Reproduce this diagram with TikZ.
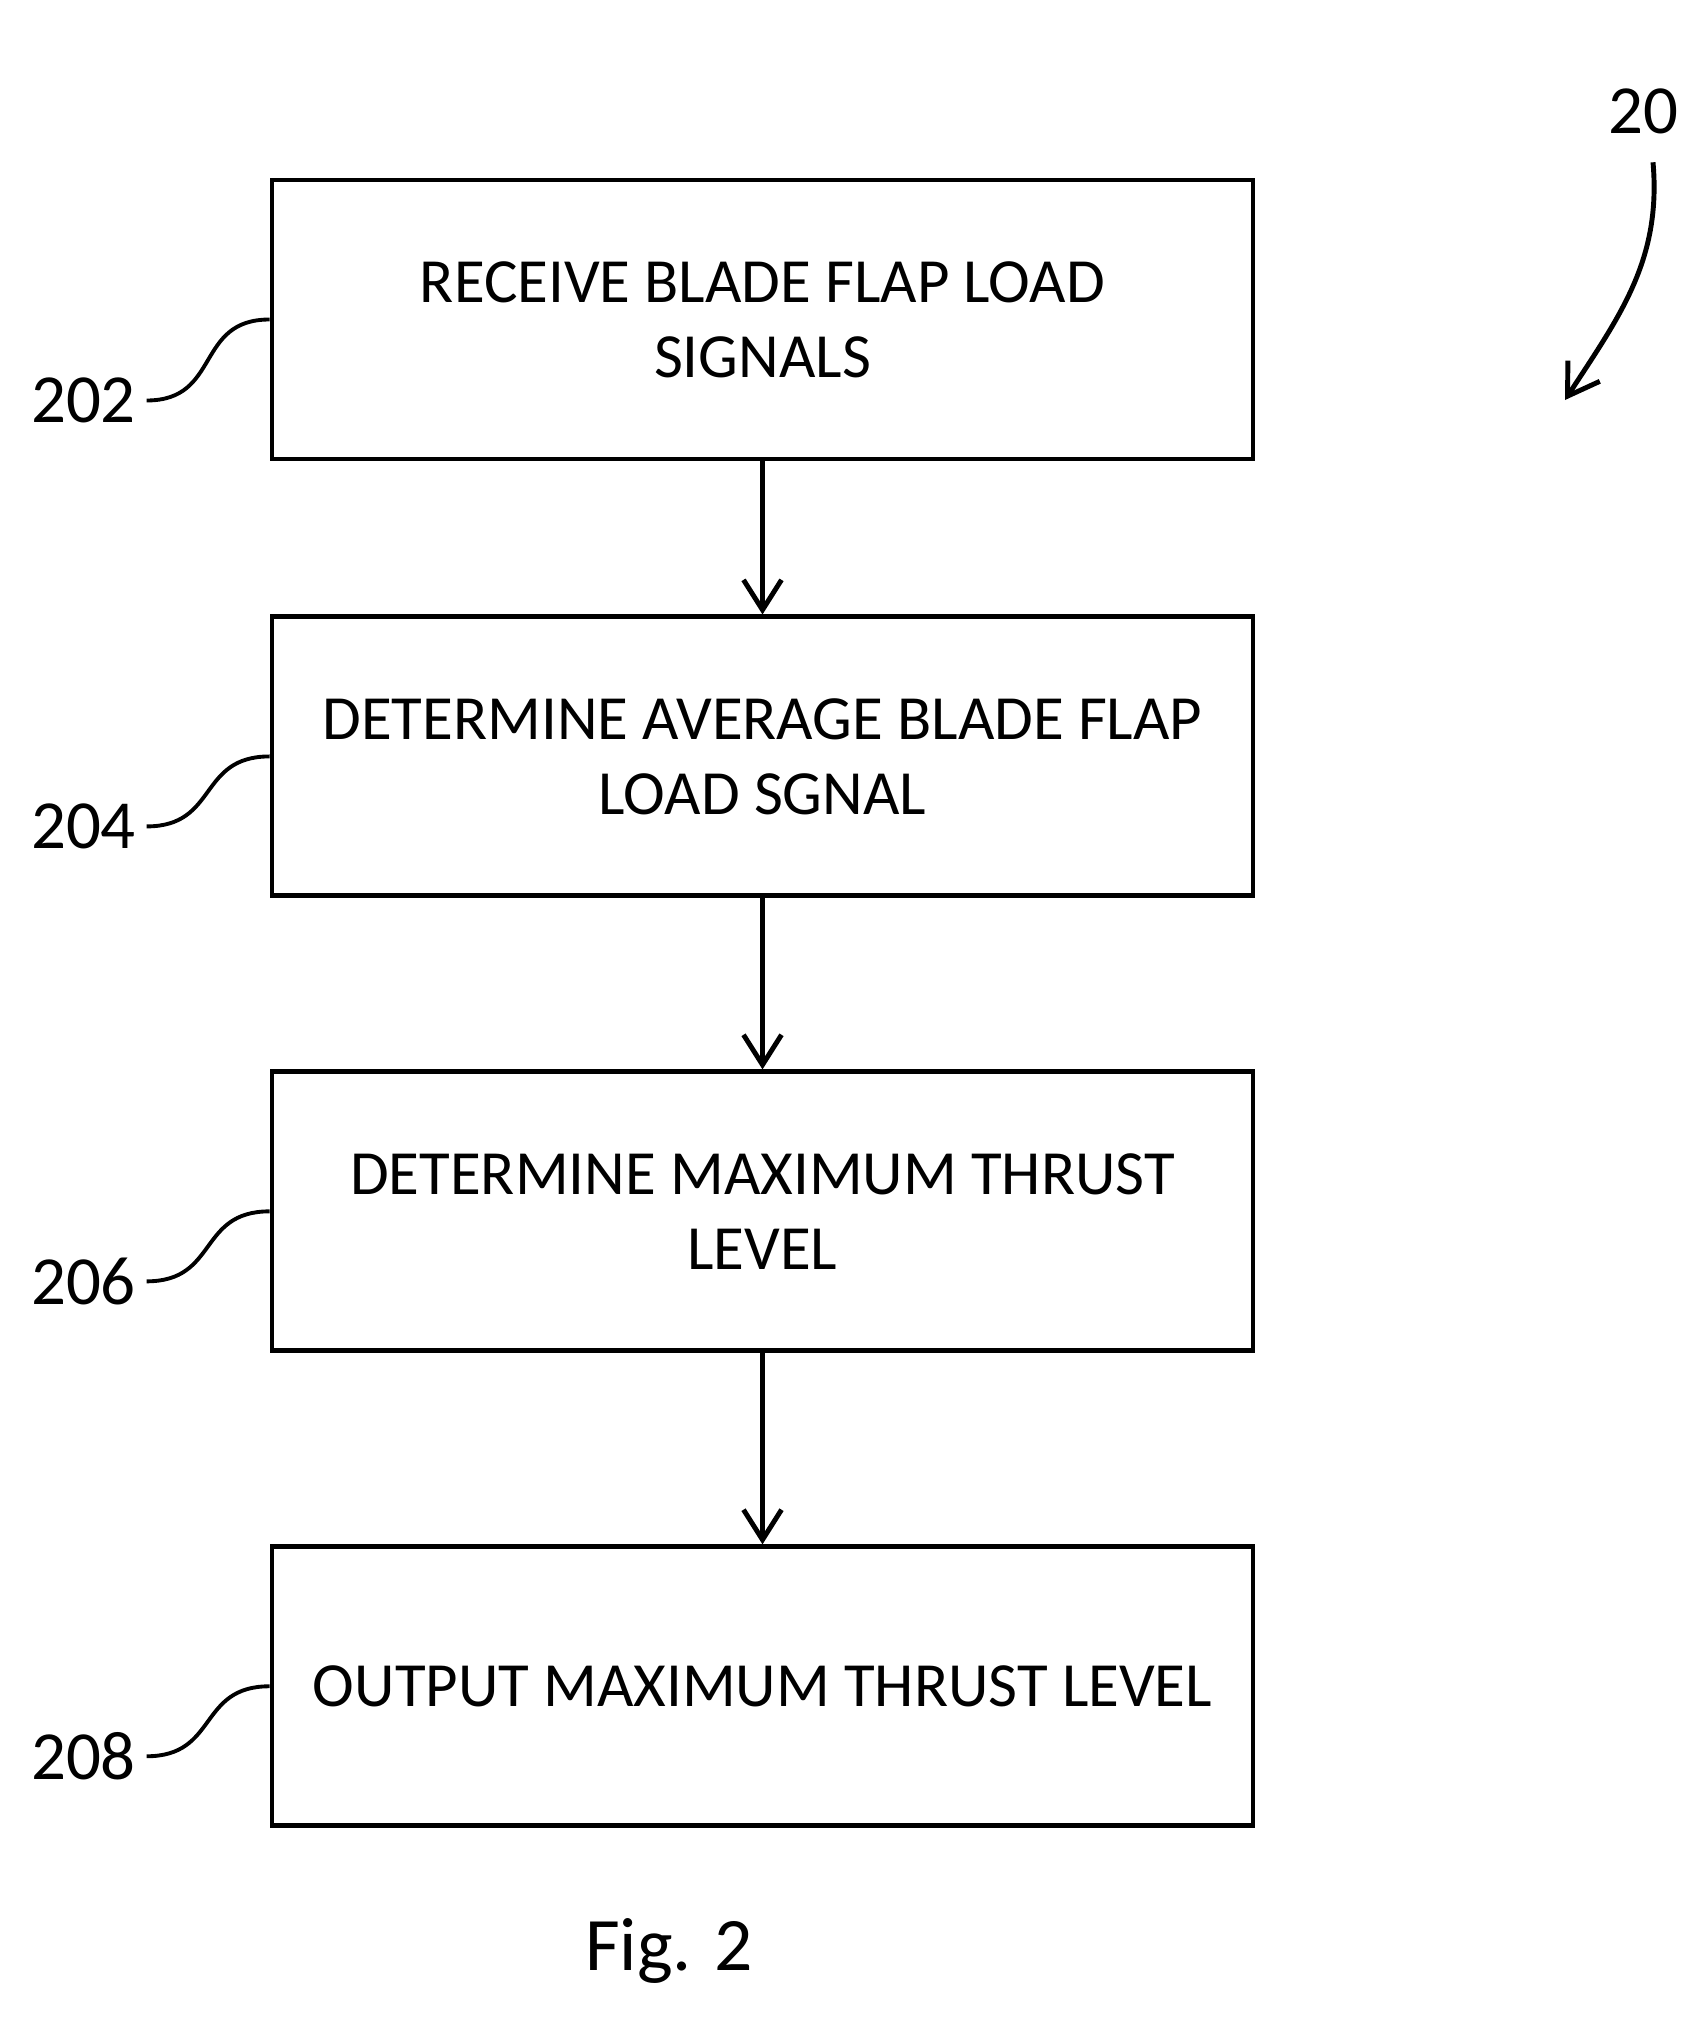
\documentclass[tikz,border=0pt]{standalone}
\usepackage{fontspec}
\setmainfont{Carlito}
\usetikzlibrary{arrows.meta,positioning}

\begin{document}
\begin{tikzpicture}[>={Straight Barb[length=3mm,width=3.8mm]},
  node distance=15.3mm,
  block/.style={draw=black,line width=1.4pt,align=center,minimum width=98.1mm,
    minimum height=27.9mm,font=\fontsize{17.9}{21.3}\selectfont},
  num/.style={inner sep=0pt,font=\fontsize{19.6}{23}\selectfont},
  arr/.style={->,line width=1.4pt},
  lead/.style={line width=1.1pt}]
  \useasboundingbox (0,0) rectangle (17.06,-20.41);
  \node[block] (s202) at (7.625,-3.195) {RECEIVE BLADE FLAP LOAD\\SIGNALS};
  \node[block,below=15.3mm of s202] (s204) {DETERMINE AVERAGE BLADE FLAP\\LOAD SGNAL};
  \node[block,below=17.1mm of s204] (s206) {DETERMINE MAXIMUM THRUST\\LEVEL};
  \node[block,below=19.1mm of s206] (s208) {OUTPUT MAXIMUM THRUST LEVEL};
  \draw[arr] (s202) -- (s204);
  \draw[arr] (s204) -- (s206);
  \draw[arr] (s206) -- (s208);
  % reference numerals
  \node[num,anchor=east] (n202) at ([shift={(-1.33,-0.81)}]s202.west) {202};
  \node[num,anchor=east] (n204) at ([shift={(-1.33,-0.70)}]s204.west) {204};
  \node[num,anchor=east] (n206) at ([shift={(-1.33,-0.70)}]s206.west) {206};
  \node[num,anchor=east] (n208) at ([shift={(-1.33,-0.70)}]s208.west) {208};
  \draw[lead] ([xshift=1mm]n202.east) to[out=0,in=180,looseness=1.3] (s202.west);
  \draw[lead] ([xshift=1mm]n204.east) to[out=0,in=180,looseness=1.3] (s204.west);
  \draw[lead] ([xshift=1mm]n206.east) to[out=0,in=180,looseness=1.3] (s206.west);
  \draw[lead] ([xshift=1mm]n208.east) to[out=0,in=180,looseness=1.3] (s208.west);
  \node[num] (n20) at (16.43,-1.11) {20};
  \coordinate (c20) at (15.65,-4.00);
  \draw[arr] ([xshift=1mm,yshift=-2.8mm]n20.south) to[out=-85,in=57] (c20);
  \node[font=\fontsize{21.5}{26}\selectfont,anchor=base] (fig) at (6.69,-19.70) {Fig. 2};
\end{tikzpicture}
\end{document}
